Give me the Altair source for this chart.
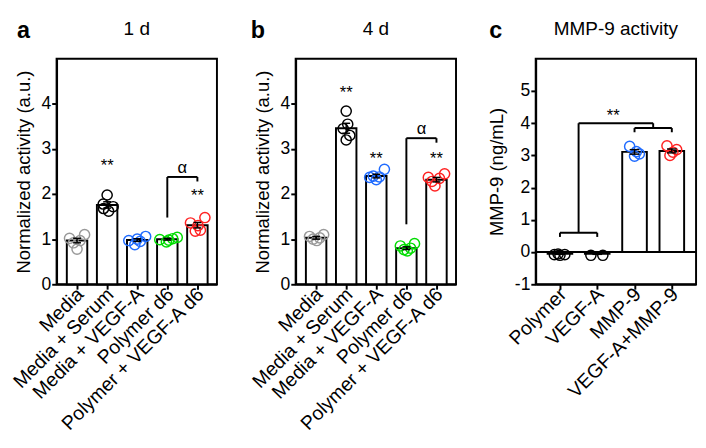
import altair as alt
import pandas as pd

FONT = "Liberation Sans"

# ---------------- data ----------------
cats_a = ["Media", "Media + Serum", "Media + VEGF-A", "Polymer d6", "Polymer + VEGF-A d6"]
colors_ab = ["#999999", "#000000", "#1f6bff", "#00dd00", "#ff2222"]
mean_a = [0.97, 1.76, 0.98, 1.00, 1.31]
sem_a = [0.05, 0.07, 0.03, 0.02, 0.06]
pts_a = [[1.02, 0.78, 1.10, 0.97, 0.92],
         [1.98, 1.78, 1.62, 1.72, 1.68],
         [0.97, 0.88, 0.95, 1.06, 1.00],
         [0.99, 0.94, 1.01, 1.04, 0.98],
         [1.36, 1.18, 1.20, 1.48, 1.30]]
off_a = [[-0.25, 0.00, 0.25, 0.10, -0.12],
         [0.00, -0.13, 0.05, 0.20, -0.12],
         [-0.28, -0.08, 0.10, 0.28, 0.00],
         [-0.25, -0.03, 0.18, 0.33, 0.05],
         [-0.23, -0.07, 0.10, 0.25, 0.02]]

cats_b = cats_a
mean_b = [1.03, 3.46, 2.40, 0.80, 2.32]
sem_b = [0.03, 0.11, 0.04, 0.03, 0.05]
pts_b = [[1.06, 0.97, 1.10, 1.00, 1.03],
         [3.84, 3.45, 3.30, 3.20, 3.55],
         [2.37, 2.32, 2.55, 2.38, 2.40],
         [0.85, 0.74, 0.90, 0.77, 0.80],
         [2.37, 2.18, 2.45, 2.35, 2.28]]
off_b = [[-0.22, 0.02, 0.25, -0.10, 0.12],
         [0.00, -0.10, 0.12, 0.00, 0.05],
         [-0.22, 0.00, 0.27, 0.10, -0.10],
         [-0.20, 0.03, 0.27, -0.08, 0.14],
         [-0.27, -0.05, 0.27, 0.10, -0.15]]

cats_c = ["Polymer", "VEGF-A", "MMP-9", "VEGF-A+MMP-9"]
colors_c = ["#000000", "#000000", "#1f6bff", "#ff2222"]
mean_c = [-0.05, -0.05, 3.11, 3.14]
sem_c = [0.02, 0.02, 0.07, 0.06]
pts_c = [[-0.08, -0.10, -0.08, -0.06],
         [-0.10, -0.10],
         [3.28, 3.05, 2.98, 3.12],
         [3.30, 3.18, 3.00, 3.10]]
off_c = [[-0.15, 0.00, 0.13, -0.05],
         [-0.17, 0.15],
         [-0.13, 0.13, 0.00, 0.05],
         [-0.13, 0.13, -0.05, 0.03]]

# significance annotations: (category position, height, text)
stars_a = [(2, 2.62, "**"), (5, 1.95, "**"), (4.5, 2.58, "α")]
stars_b = [(2, 4.23, "**"), (3, 2.78, "**"), (5, 2.78, "**"), (4.5, 3.45, "α")]
stars_c = [(2.43, 4.22, "**")]
# bracket segments: (x1, x2, y1, y2)
br_a = [(4, 4, 1.48, 2.38), (4, 5, 2.38, 2.38), (5, 5, 2.38, 2.28)]
br_b = [(4, 4, 1.33, 3.24), (4, 5, 3.24, 3.24), (5, 5, 3.24, 3.14)]
br_c = [(1, 2, 0.60, 0.60), (1, 1, 0.60, 0.47), (2, 2, 0.60, 0.47),
        (1.5, 1.5, 0.60, 4.0), (1.5, 3.5, 4.0, 4.0), (3.5, 3.5, 4.0, 3.85),
        (3, 4, 3.85, 3.85), (3, 3, 3.85, 3.72), (4, 4, 3.85, 3.72)]

W, H = 165, 232


def panel(cats, colors, means, sems, pts, offs, stars, brackets, ydom, yticks,
          ytitle, title, letter, ldx, xdom, halfw, zero=False):
    n = len(cats)
    idx = list(range(1, n + 1))
    bars = pd.DataFrame({"i": idx, "lo": [i - halfw for i in idx], "hi": [i + halfw for i in idx],
                         "m": means, "z": [0] * n,
                         "e1": [m - s for m, s in zip(means, sems)],
                         "e2": [m + s for m, s in zip(means, sems)],
                         "c1": [i - 0.13 for i in idx], "c2": [i + 0.13 for i in idx]})
    rows = []
    for k in range(n):
        for v, o in zip(pts[k], offs[k]):
            rows.append({"xp": idx[k] + o, "v": v, "col": colors[k]})
    pdf = pd.DataFrame(rows)
    sdf = pd.DataFrame(stars, columns=["x", "y", "t"])
    bdf = pd.DataFrame(brackets, columns=["x1", "x2", "y1", "y2"])

    labels = "[" + ",".join("'" + c + "'" for c in cats) + "]"
    xaxis = alt.Axis(values=idx, labelExpr=labels + "[datum.value-1]", labelAngle=-45,
                     labelAlign="right", labelBaseline="middle", title=None, labelPadding=2,
                     labelOverlap=False, labelBound=False, labelFlush=False, labelFontSize=20,
                     labelLimit=0, labelOffset=3)
    xs = alt.Scale(domain=xdom, nice=False, zero=False)
    ys = alt.Scale(domain=ydom, nice=False, zero=False)
    yaxis = alt.Axis(values=yticks, title=ytitle, titlePadding=8, labelPadding=1,
                     labelOverlap=False, labelExpr="'' + datum.value")

    def X(f):
        return alt.X(f, type="quantitative", scale=xs, axis=xaxis)

    def Y(f):
        return alt.Y(f, type="quantitative", scale=ys, axis=yaxis)

    layers = []
    layers.append(alt.Chart(bars).mark_rect(fill="white", stroke="black", strokeWidth=2).encode(
        x=X("lo"), x2="hi", y=Y("z"), y2="m"))
    if zero:
        layers.append(alt.Chart(bars).mark_rule(color="black", strokeWidth=2).encode(
            y=Y("z"), x=alt.value(0), x2=alt.value(W)))
    layers.append(alt.Chart(pdf).mark_point(shape="circle", filled=False, size=110, strokeWidth=1.5,
                                            opacity=1).encode(
        x=X("xp"), y=Y("v"), color=alt.Color("col:N", scale=None)))
    layers.append(alt.Chart(bars).mark_rule(color="black", strokeWidth=1.5).encode(
        x=X("i"), y=Y("e1"), y2="e2"))
    layers.append(alt.Chart(bars).mark_rule(color="black", strokeWidth=1.5).encode(
        x=X("c1"), x2="c2", y=Y("e2")))
    layers.append(alt.Chart(bars).mark_rule(color="black", strokeWidth=1.5).encode(
        x=X("c1"), x2="c2", y=Y("e1")))
    layers.append(alt.Chart(bdf).mark_rule(color="black", strokeWidth=2).encode(
        x=X("x1"), x2="x2", y=Y("y1"), y2="y2"))
    layers.append(alt.Chart(sdf).mark_text(font=FONT, fontSize=17, color="black",
                                           baseline="middle").encode(
        x=X("x"), y=Y("y"), text="t:N"))
    layers.append(alt.Chart(pd.DataFrame({"t": [letter]})).mark_text(
        font=FONT, fontSize=24, fontWeight="bold", color="black", baseline="alphabetic",
        align="center").encode(x=alt.value(ldx), y=alt.value(-21), text="t:N"))
    layers.append(alt.Chart(pd.DataFrame({"t": [title]})).mark_text(
        font=FONT, fontSize=19.5, color="black", baseline="middle",
        align="center").encode(x=alt.value(W / 2), y=alt.value(-31), text="t:N"))

    return alt.layer(*layers).properties(width=W, height=H)


pa = panel(cats_a, colors_ab, mean_a, sem_a, pts_a, off_a, stars_a, br_a, [0, 5],
           [0, 1, 2, 3, 4], "Normalized activity (a.u.)", "1 d", "a", -34, [0.32, 5.65], 0.34)
pb = panel(cats_b, colors_ab, mean_b, sem_b, pts_b, off_b, stars_b, br_b, [0, 5],
           [0, 1, 2, 3, 4], "Normalized activity (a.u.)", "4 d", "b", -39, [0.32, 5.65], 0.34)
pc = panel(cats_c, colors_c, mean_c, sem_c, pts_c, off_c, stars_c, br_c, [-1, 6],
           [-1, 0, 1, 2, 3, 4, 5], "MMP-9 (ng/mL)", "MMP-9 activity", "c", -41, [0.35, 4.65], 0.33,
           zero=True)

chart = alt.hconcat(alt.hconcat(pa, pb, spacing=30), pc, spacing=30).configure_view(
    stroke="black", strokeWidth=2
).configure_axis(
    domainColor="black", domainWidth=2, tickColor="black", tickWidth=2, tickSize=5,
    labelFont=FONT, labelFontSize=18, labelColor="black", titleFont=FONT, titleFontSize=19,
    titleColor="black", titleFontWeight="normal", grid=False
).configure_concat(spacing=30).properties(padding={"left": 0, "top": 4, "right": 0, "bottom": 0})

chart.save("out.html", embed_options={"renderer": "svg", "actions": False})
